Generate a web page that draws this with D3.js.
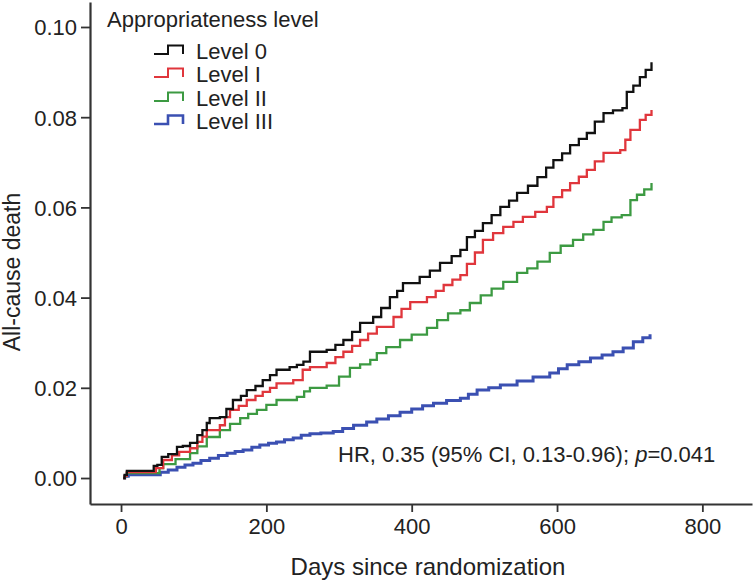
<!DOCTYPE html>
<html>
<head>
<meta charset="utf-8">
<script src="https://cdn.jsdelivr.net/npm/d3@7/dist/d3.min.js"></script>
<style>
  html, body { margin: 0; padding: 0; background: #fff; }
  svg { display: block; }
  text { font-family: "Liberation Sans", Arial, Helvetica, sans-serif; fill: #222; }
</style>
</head>
<body>
<svg id="chart" width="754" height="581"></svg>
<script>
// ---- Data ----
const seriesNames = ["Level 0", "Level I", "Level II", "Level III"];
const seriesColors = ["#111111", "#e0363c", "#3c9a42", "#3b50b2"];

const level0 = [[3,0],[5,0.0007],[8,0.0016],[43,0.0016],[45,0.0027],[50,0.0029],[56,0.0047],[65,0.0053],[77,0.0069],[85,0.0071],[95,0.0078],[105,0.0095],[112,0.0106],[118,0.0122],[122,0.0133],[136,0.0135],[145,0.0153],[154,0.0173],[165,0.0182],[173,0.0195],[185,0.0204],[195,0.0217],[205,0.0228],[214,0.0240],[232,0.0246],[242,0.0251],[251,0.0258],[260,0.0280],[283,0.0284],[295,0.0295],[306,0.0306],[318,0.0324],[329,0.0344],[347,0.0357],[358,0.0377],[370,0.0401],[380,0.0415],[388,0.0432],[411,0.0446],[425,0.0460],[439,0.0477],[455,0.0492],[467,0.0506],[476,0.0534],[487,0.0548],[498,0.0565],[510,0.0583],[522,0.0601],[534,0.0615],[545,0.0632],[560,0.0648],[573,0.0667],[585,0.0688],[595,0.0705],[607,0.0720],[618,0.0738],[630,0.0752],[641,0.0765],[652,0.0790],[664,0.0809],[677,0.0815],[690,0.0820],[696,0.0856],[705,0.0870],[714,0.0889],[722,0.0905],[730,0.0922]];

const level1 = [[3,0],[5,0.0005],[8,0.0013],[45,0.0013],[48,0.0022],[58,0.0040],[70,0.0050],[80,0.0058],[95,0.0066],[105,0.0080],[112,0.0092],[118,0.0106],[136,0.0117],[143,0.0135],[150,0.0151],[162,0.0160],[173,0.0173],[185,0.0182],[195,0.0191],[205,0.0200],[214,0.0210],[237,0.0217],[250,0.0240],[260,0.0246],[283,0.0255],[295,0.0268],[306,0.0280],[318,0.0293],[329,0.0306],[340,0.0320],[352,0.0335],[375,0.0357],[386,0.0375],[398,0.0390],[421,0.0401],[433,0.0415],[444,0.0428],[456,0.0440],[467,0.0450],[476,0.0475],[487,0.0500],[498,0.0528],[512,0.0543],[526,0.0557],[540,0.0568],[553,0.0579],[570,0.0590],[586,0.0601],[595,0.0623],[607,0.0638],[618,0.0654],[630,0.0668],[641,0.0683],[652,0.0702],[664,0.0721],[687,0.0727],[694,0.0750],[701,0.0772],[714,0.0794],[722,0.0805],[730,0.0816]];

const level2 = [[3,0],[5,0.0004],[8,0.0011],[50,0.0011],[53,0.0022],[58,0.0031],[75,0.0042],[95,0.0055],[105,0.0070],[118,0.0091],[136,0.0106],[150,0.0120],[164,0.0133],[175,0.0142],[187,0.0151],[200,0.0162],[214,0.0173],[242,0.0180],[252,0.0192],[260,0.0200],[283,0.0205],[300,0.0225],[315,0.0244],[329,0.0252],[343,0.0262],[352,0.0277],[365,0.0290],[384,0.0306],[400,0.0318],[421,0.0333],[435,0.0350],[450,0.0365],[467,0.0372],[480,0.0388],[495,0.0405],[510,0.0420],[526,0.0435],[545,0.0455],[559,0.0465],[573,0.0480],[590,0.0499],[605,0.0515],[622,0.0528],[636,0.0540],[650,0.0550],[664,0.0568],[675,0.0578],[689,0.0583],[701,0.0616],[710,0.0628],[720,0.0640],[730,0.0654]];

const level3 = [[3,0],[5,0.0004],[10,0.0007],[40,0.0007],[54,0.0013],[65,0.0018],[77,0.0024],[88,0.0029],[99,0.0033],[110,0.0039],[122,0.0044],[134,0.0050],[146,0.0055],[157,0.0059],[168,0.0062],[180,0.0068],[191,0.0073],[203,0.0077],[214,0.0080],[225,0.0085],[237,0.0089],[248,0.0095],[260,0.0098],[275,0.0100],[292,0.0103],[305,0.0110],[320,0.0117],[338,0.0124],[352,0.0131],[368,0.0138],[384,0.0146],[400,0.0153],[415,0.0160],[430,0.0166],[448,0.0172],[467,0.0177],[478,0.0186],[490,0.0195],[506,0.0200],[522,0.0206],[545,0.0215],[567,0.0224],[590,0.0233],[602,0.0242],[614,0.0251],[630,0.0258],[646,0.0266],[662,0.0273],[677,0.0280],[691,0.0288],[705,0.0302],[718,0.0311],[728,0.0319]];

const xTicks = [0, 200, 400, 600, 800];
const yTicks = [0.00, 0.02, 0.04, 0.06, 0.08, 0.10];

// ---- Chart ----
const svg = d3.select("#chart");

const x = d3.scaleLinear().domain([-42.7, 868.3]).range([90, 752]);
const y = d3.scaleLinear().domain([-0.00576, 0.10554]).range([504, 2]);

const xAxis = d3.axisBottom(x).tickValues(xTicks).tickFormat(d3.format("d")).tickSize(8).tickSizeOuter(0).tickPadding(6);
const yAxis = d3.axisLeft(y).tickValues(yTicks).tickFormat(d3.format(".2f")).tickSize(9).tickSizeOuter(0).tickPadding(4);

const gx = svg.append("g").attr("transform", "translate(0,504)").call(xAxis);
const gy = svg.append("g").attr("transform", "translate(90,0)").call(yAxis);

[gx, gy].forEach(g => {
  g.select(".domain").attr("stroke", "#333").attr("stroke-width", 2.2);
  g.selectAll(".tick line").attr("stroke", "#333").attr("stroke-width", 1.8);
  g.selectAll(".tick text").attr("fill", "#222").style("font-size", "22px")
    .style("font-family", '"Liberation Sans", Arial, sans-serif');
});
gx.selectAll(".tick text").attr("dy", "0.71em");
gy.selectAll(".tick text").attr("dy", "0.36em");

// Axis titles
svg.append("text")
  .attr("x", 428).attr("y", 575)
  .attr("text-anchor", "middle")
  .style("font-size", "24px")
  .text("Days since randomization");

svg.append("text")
  .attr("transform", "translate(20,272) rotate(-90)")
  .attr("text-anchor", "middle")
  .style("font-size", "23px")
  .text("All-cause death");

// Curves
const line = d3.line()
  .x(d => x(d[0]))
  .y(d => y(d[1]))
  .curve(d3.curveStepAfter);

const allSeries = [level0, level1, level2, level3];
const widths = [2.3, 2.3, 2.3, 3];
// draw blue first (bottom), then green, red, black on top
[3, 2, 1, 0].forEach(i => {
  svg.append("path")
    .datum(allSeries[i])
    .attr("fill", "none")
    .attr("stroke", seriesColors[i])
    .attr("stroke-width", widths[i])
    .attr("stroke-linejoin", "miter")
    .attr("d", line);
});

// Legend
svg.append("text")
  .attr("x", 107).attr("y", 27)
  .style("font-size", "22px")
  .text("Appropriateness level");

const legendBase = [59, 82, 106, 129];
seriesNames.forEach((name, i) => {
  const b = legendBase[i];
  svg.append("path")
    .attr("d", `M154,${b - 5} H168 V${b - 13.5} H183 V${b - 5}`)
    .attr("fill", "none")
    .attr("stroke", seriesColors[i])
    .attr("stroke-width", i === 3 ? 2.6 : 2);
  svg.append("text")
    .attr("x", 196).attr("y", b)
    .style("font-size", "22px")
    .text(name);
});

// HR annotation
const hr = svg.append("text")
  .attr("x", 338).attr("y", 462)
  .style("font-size", "22px");
hr.append("tspan").text("HR, 0.35 (95% CI, 0.13-0.96); ");
hr.append("tspan").style("font-style", "italic").text("p");
hr.append("tspan").text("=0.041");
</script>
</body>
</html>
